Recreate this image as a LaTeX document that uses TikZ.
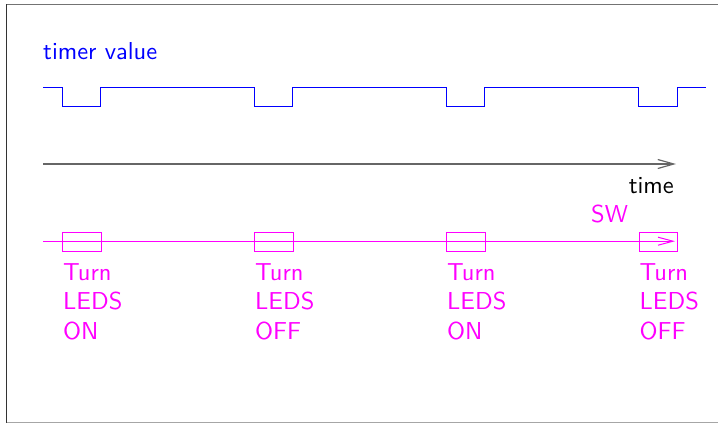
\documentclass[tikz,border=0pt]{standalone}
\usepackage{graphicx}
\usetikzlibrary{arrows.meta}
\definecolor{tvblue}{RGB}{0,0,255}
\definecolor{swmag}{RGB}{255,0,255}
\newcommand\bigsf[1]{\scalebox{2.45}{\fontsize{10}{12}\selectfont\sffamily #1}}
\newcommand\bigstack[1]{\bigsf{\begin{tabular}[t]{@{}l@{}}#1\end{tabular}}}
\begin{document}
\begin{tikzpicture}[x=1pt,y=-1pt,
  lbl/.style={inner sep=0pt},
  wave/.style={tvblue, line width=1pt},
  swbox/.style={draw=swmag, line width=1pt, minimum width=38.5pt, minimum height=19.5pt, inner sep=0pt, anchor=north west},
  swlab/.style={lbl, text=swmag, anchor=base west},
  axisline/.style={draw=black!60, line width=1.3pt, -{Straight Barb[length=16pt,width=9pt,line width=1.2pt]}},
  swline/.style={draw=swmag, line width=1pt, -{Straight Barb[length=15pt,width=8pt,line width=1pt]}}
]
\useasboundingbox (0,0) rectangle (718,424);
% frame
\draw[black!55, line width=1pt] (6.5,4) -- (718,4);
\draw[black!80, line width=1.5pt] (6.5,4) -- (6.5,422.5);
\draw[black!35, line width=1pt] (6.5,422.5) -- (718,422.5);

% timer value
\node[lbl, text=tvblue, anchor=base west] (tv) at (43,59) {\bigsf{timer value}};
\draw[wave] (43,87.3) -- (62.3,87.3) -- (62.3,106.7) -- (100.7,106.7) -- (100.7,87.3)
  -- (254.3,87.3) -- (254.3,106.7) -- (292.7,106.7) -- (292.7,87.3)
  -- (446.3,87.3) -- (446.3,106.7) -- (484.7,106.7) -- (484.7,87.3)
  -- (638.7,87.3) -- (638.7,106.7) -- (677.3,106.7) -- (677.3,87.3) -- (705.7,87.3);

% time axis
\coordinate (ax0) at (43,164);
\coordinate (ax1) at (676,164);
\draw[axisline] (ax0) -- (ax1);
\node[lbl, anchor=base east] (time) at (674,193) {\bigsf{time}};

% SW
\node[lbl, text=swmag, anchor=base west] (sw) at (591,222.3) {\bigsf{SW}};
\node[swbox] (b1) at (62.3,231.5) {};
\node[swbox] (b2) at (254.3,231.5) {};
\node[swbox] (b3) at (446.3,231.5) {};
\node[swbox] (b4) at (638.7,231.5) {};
\coordinate (sw0) at (43,241.2);
\coordinate (sw1) at (675,241.2);
\draw[swline] (sw0) -- (sw1);

\node[swlab] (l1) at (63,280.3) {\bigstack{Turn\\LEDS\\ON}};
\node[swlab] (l2) at (255,280.3) {\bigstack{Turn\\LEDS\\OFF}};
\node[swlab] (l3) at (447,280.3) {\bigstack{Turn\\LEDS\\ON}};
\node[swlab] (l4) at (639.5,280.3) {\bigstack{Turn\\LEDS\\OFF}};
\end{tikzpicture}
\end{document}
